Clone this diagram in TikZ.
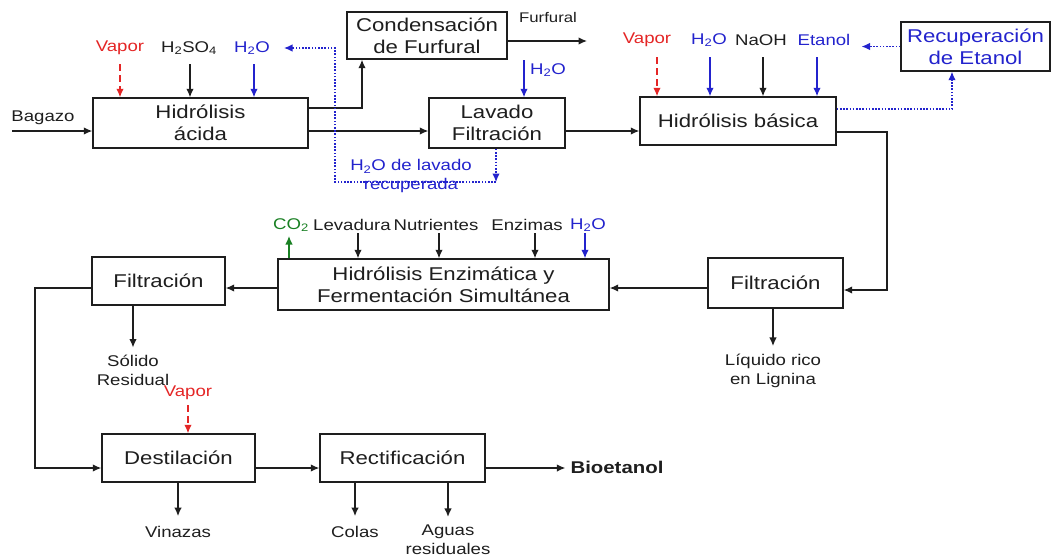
\documentclass[tikz,border=0pt]{standalone}
\usepackage{fontspec}
\setmainfont{Liberation Sans}[FakeStretch=1.2]
\usetikzlibrary{arrows.meta,calc}
\definecolor{vred}{RGB}{228,38,38}
\definecolor{wblue}{RGB}{35,35,205}
\definecolor{cgreen}{RGB}{25,128,35}
\definecolor{ink}{RGB}{30,30,30}
\newcommand{\dn}[1]{\textsubscript{#1}}
\begin{document}
\begin{tikzpicture}[x=1pt,y=-1pt,
  box/.style={draw=ink, line width=1.4pt, fill=white, inner sep=0pt, align=center,
    font=\fontsize{18.5}{22}\selectfont, text=ink},
  lbl/.style={inner sep=1pt, align=center, font=\fontsize{15.5}{19}\selectfont, text=ink},
  flow/.style={draw=ink, line width=1.3pt, -{Latex[length=8.5pt,width=7.5pt]}},
  steam/.style={flow, draw=vred, dash pattern=on 7pt off 4pt},
  water/.style={flow, draw=wblue},
  recyc/.style={flow, draw=wblue, line width=1.2pt, dash pattern=on 1.6pt off 1.6pt},
  gas/.style={flow, draw=cgreen}]
\useasboundingbox (0,0) rectangle (1054,558);

% process units
\node[box, minimum width=215pt, minimum height=50pt] (ha) at (200.5,123) {Hidrólisis\\ácida};
\node[box, minimum width=160pt, minimum height=47pt] (cf) at (427,35.5) {Condensación\\de Furfural};
\node[box, minimum width=136pt, minimum height=50pt] (lf) at (497,123) {Lavado\\Filtración};
\node[box, minimum width=196pt, minimum height=48pt] (hb) at (738,121) {Hidrólisis básica};
\node[box, minimum width=149pt, minimum height=49pt, text=wblue] (re) at (975.5,46.5) {Recuperación\\de Etanol};
\node[box, minimum width=135pt, minimum height=50pt] (fr) at (775.5,283) {Filtración};
\node[box, minimum width=331pt, minimum height=51pt] (he) at (443.5,284.5) {Hidrólisis Enzimática y\\Fermentación Simultánea};
\node[box, minimum width=133pt, minimum height=48pt] (fl) at (158.5,281) {Filtración};
\node[box, minimum width=153pt, minimum height=48pt] (de) at (178.5,458) {Destilación};
\node[box, minimum width=165pt, minimum height=48pt] (rc) at (402.5,458) {Rectificación};

% stream labels
\node[lbl] (bag) at (43,118) {Bagazo};
\node[lbl, text=vred] (v1) at (120,48) {Vapor};
\node[lbl] (acid) at (189,48) {H\dn{2}SO\dn{4}};
\node[lbl, text=wblue] (w1) at (252,48) {H\dn{2}O};
\node[lbl, font=\fontsize{14}{17}\selectfont] (fur) at (548,17) {Furfural};
\node[lbl, text=wblue] (w2) at (548,70) {H\dn{2}O};
\node[lbl, text=wblue] (wrec) at (411,176) {H\dn{2}O de lavado\\recuperada};
\node[lbl, text=vred] (v2) at (647,40) {Vapor};
\node[lbl, text=wblue] (w3) at (709,40) {H\dn{2}O};
\node[lbl] (naoh) at (761,40) {NaOH};
\node[lbl, text=wblue] (eta) at (824,40) {Etanol};
\node[lbl, text=cgreen] (co2) at (291,225) {CO\dn{2}};
\node[lbl] (lev) at (352,225) {Levadura};
\node[lbl] (nut) at (436,225) {Nutrientes};
\node[lbl] (enz) at (527,225) {Enzimas};
\node[lbl, text=wblue] (w4) at (588,225) {H\dn{2}O};
\node[lbl] (sol) at (133,370) {Sólido\\Residual};
\node[lbl] (liq) at (773,371) {Líquido rico\\en Lignina};
\node[lbl, text=vred] (v3) at (188,393) {Vapor};
\node[lbl] (vin) at (178,532) {Vinazas};
\node[lbl] (col) at (355,532) {Colas};
\node[lbl] (agu) at (448,540) {Aguas\\residuales};
\node[lbl, font=\bfseries\fontsize{17}{20}\selectfont] (bio) at (617,467) {Bioetanol};

% tops of the feed arrows
\coordinate (v1a) at (120,64);
\coordinate (acida) at (190,64);
\coordinate (w1a) at (254,64);
\coordinate (w2a) at (524,60);
\coordinate (v2a) at (657,57);
\coordinate (w3a) at (710,57);
\coordinate (naoha) at (763,57);
\coordinate (etaa) at (817,57);
\coordinate (co2a) at (289,236);
\coordinate (leva) at (358,233);
\coordinate (nuta) at (439,233);
\coordinate (enza) at (535,233);
\coordinate (w4a) at (585,233);
\coordinate (v3a) at (188,405);

% bends and free ends
\coordinate (bagin) at (12,131);
\coordinate (hacf) at (362,108);
\coordinate (furend) at (587,41);
\coordinate (wr) at (496,182);
\coordinate (wl) at (335,182);
\coordinate (hbturn) at (887,290);
\coordinate (flturn) at (35,288);

% feeds
\draw[steam] (v1a) -- (v1a |- ha.north);
\draw[flow] (acida) -- (acida |- ha.north);
\draw[water] (w1a) -- (w1a |- ha.north);
\draw[water] (w2a) -- (w2a |- lf.north);
\draw[steam] (v2a) -- (v2a |- hb.north);
\draw[water] (w3a) -- (w3a |- hb.north);
\draw[flow] (naoha) -- (naoha |- hb.north);
\draw[water] (etaa) -- (etaa |- hb.north);
\draw[gas] (co2a |- he.north) -- (co2a);
\draw[flow] (leva) -- (leva |- he.north);
\draw[flow] (nuta) -- (nuta |- he.north);
\draw[flow] (enza) -- (enza |- he.north);
\draw[water] (w4a) -- (w4a |- he.north);
\draw[steam] (v3a) -- (v3a |- de.north);

% main line
\draw[flow] (bagin) -- (bagin -| ha.west);
\draw[flow] (hacf -| ha.east) -| (hacf |- cf.south);
\draw[flow] (cf.east |- furend) -- (furend);
\draw[flow] ([yshift=-8pt]ha.east) -- ([yshift=-8pt]ha.east -| lf.west);
\draw[flow] ([yshift=-8pt]lf.east) -- ([yshift=-8pt]lf.east -| hb.west);
\draw[flow] ([yshift=-11pt]hb.east) -| (hbturn) -- (hbturn -| fr.east);
\draw[flow] ([yshift=-5pt]fr.west) -- ([yshift=-5pt]fr.west -| he.east);
\draw[flow] ([yshift=-3.5pt]he.west) -- ([yshift=-3.5pt]he.west -| fl.east);
\draw[flow] (flturn -| fl.west) -- (flturn) |- ([yshift=-10pt]de.west);
\draw[flow] ([yshift=-10pt]de.east) -- ([yshift=-10pt]de.east -| rc.west);
\draw[flow, shorten >=4pt] ([yshift=-10pt]rc.east) -- ([yshift=-10pt]rc.east -| bio.west);

% outlets
\draw[flow, shorten >=6pt] (sol.north |- fl.south) -- (sol.north);
\draw[flow, shorten >=7pt] (liq.north |- fr.south) -- (liq.north);
\draw[flow, shorten >=9pt] (vin.north |- de.south) -- (vin.north);
\draw[flow, shorten >=9pt] (col.north |- rc.south) -- (col.north);
\draw[flow, shorten >=7pt] (agu.north |- rc.south) -- (agu.north);

% recycle streams
\draw[recyc] (wr |- lf.south) -- (wr);
\draw[recyc, shorten >=13pt] (wr) -- (wl) |- (w1.east);
\draw[recyc] ([yshift=12pt]hb.east) -| (re.south -| 952,0);
\draw[recyc, shorten >=10pt] (re.west) -- (re.west -| eta.east);
\end{tikzpicture}
\end{document}
